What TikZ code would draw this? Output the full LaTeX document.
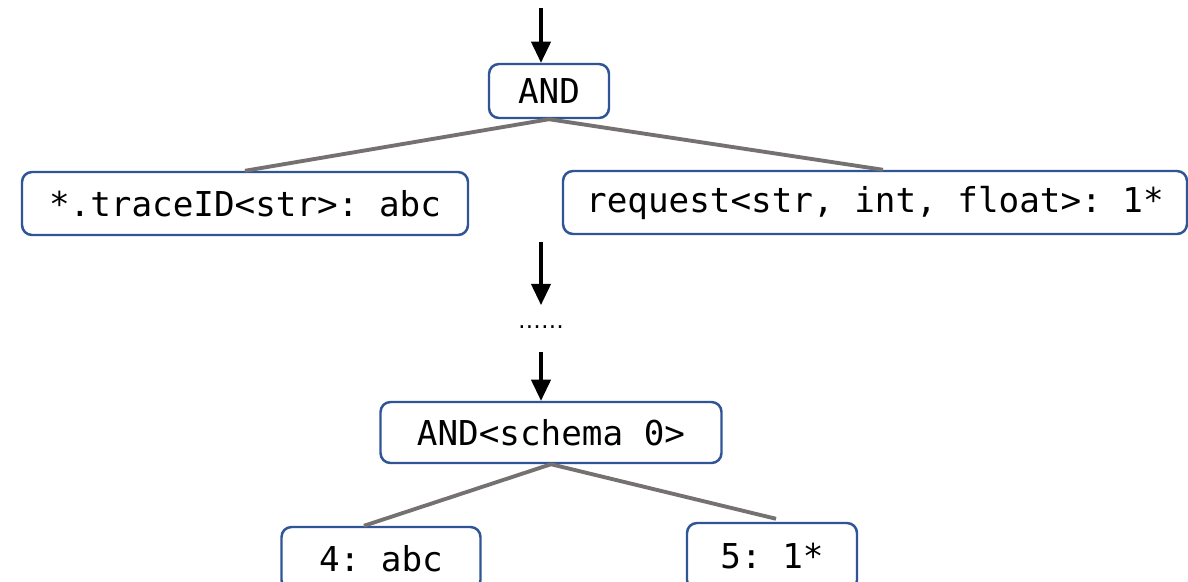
\documentclass[tikz,border=0pt]{standalone}
\usepackage{fontspec}
\setmonofont{DejaVu Sans Mono}
\newfontfamily\dotfont{DejaVu Sans}
\usetikzlibrary{arrows.meta}

\definecolor{boxblue}{HTML}{2F5597}
\definecolor{linegray}{HTML}{767171}

\tikzset{
  exprbox/.style={draw=boxblue, line width=1.4pt, rounded corners=0.2cm, fill=white,
    font=\ttfamily\fontsize{19.5}{22}\selectfont, inner sep=0pt, align=center},
  treeline/.style={draw=linegray, line width=2.2pt},
  flowarrow/.style={draw=black, line width=1.8pt, -{Triangle[length=12pt,width=11pt]}}
}

\begin{document}
\begin{tikzpicture}[x=0.02cm, y=-0.02cm]
\clip (0,0) rectangle (1188,582);
\useasboundingbox (0,0) rectangle (1188,582);

\node[exprbox, minimum width=120*0.02cm, minimum height=54*0.02cm] (and) at (549,91) {AND};
\node[exprbox, minimum width=446*0.02cm, minimum height=63*0.02cm] (trace) at (245,203.5) {*.traceID<str>: abc};
\node[exprbox, minimum width=624*0.02cm, minimum height=63*0.02cm] (req) at (875,202.5) {request<str, int, float>: 1*};
\node[font=\dotfont\fontsize{13}{15}\selectfont, inner sep=0pt] (dots) at (541,327) {……};
\node[exprbox, minimum width=341*0.02cm, minimum height=61*0.02cm] (schema) at (551,432.5) {AND<schema 0>};
\node[exprbox, minimum width=199*0.02cm, minimum height=63*0.02cm] (four) at (381,558.5) {\raisebox{-0.25cm}{4: abc}};
\node[exprbox, minimum width=170*0.02cm, minimum height=67*0.02cm] (five) at (772,556.5) {\raisebox{-0.25cm}{5: 1*}};

\coordinate (in) at (541,8);
\coordinate (midtop) at (541,242);
\coordinate (midbot) at (541,305);
\coordinate (lowtop) at (541,352);

% tree edges
\draw[treeline] (and.south) -- (trace.north);
\draw[treeline] (and.south) -- ([xshift=8*0.02cm]req.north);
\draw[treeline] (schema.south) -- ([xshift=-17*0.02cm]four.north);
\draw[treeline] (schema.south) -- ([xshift=4*0.02cm, yshift=3*0.02cm]five.north);

% flow arrows
\draw[flowarrow] (in) -- (in |- and.north);
\draw[flowarrow] (midtop) -- (midbot);
\draw[flowarrow] (lowtop) -- (lowtop |- schema.north);
\end{tikzpicture}
\end{document}
